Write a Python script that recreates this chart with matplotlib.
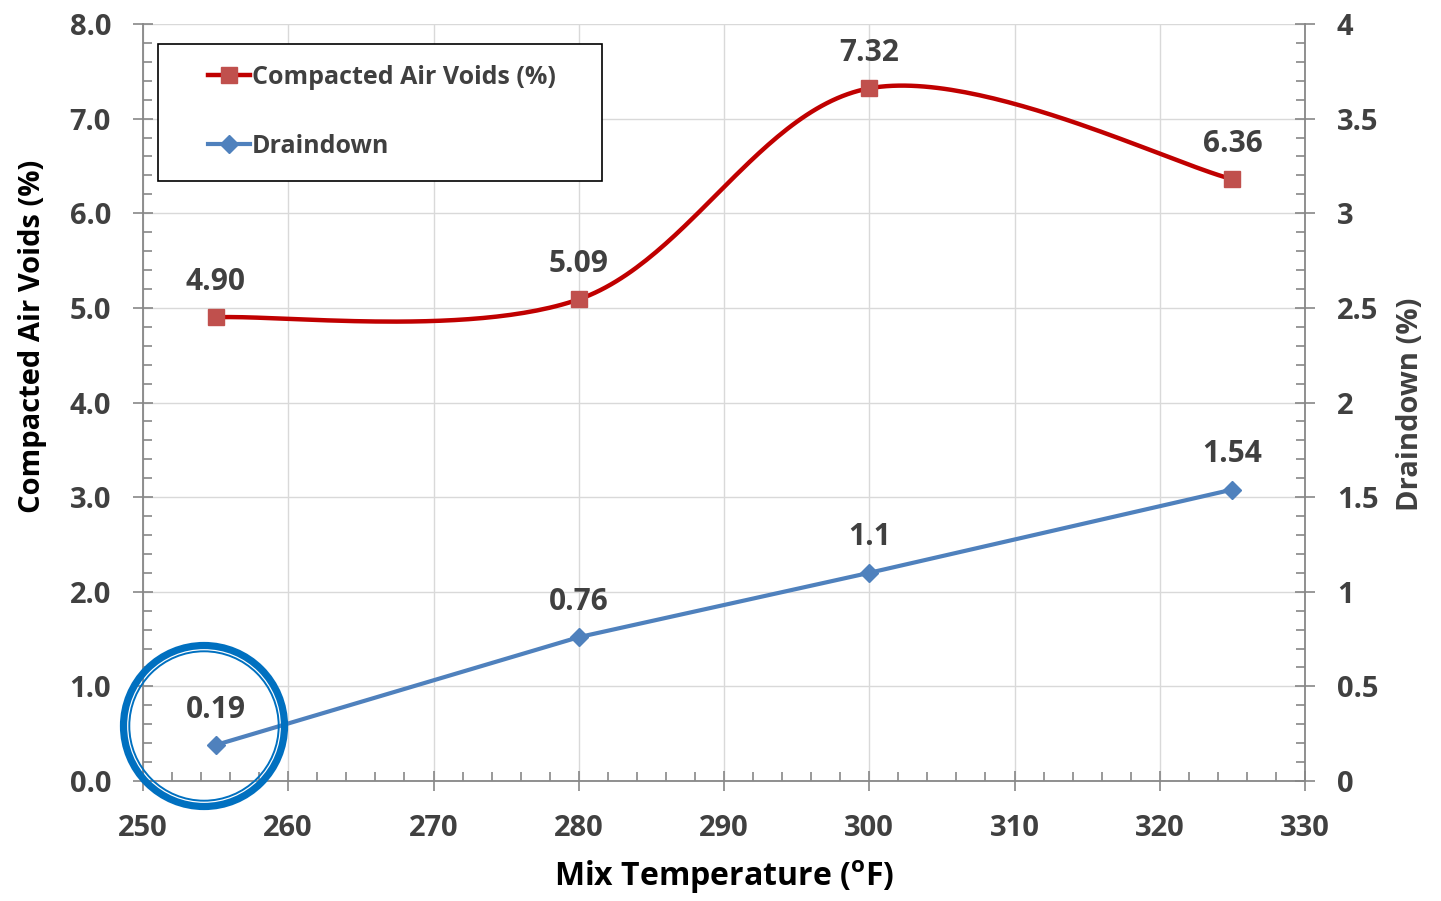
import numpy as np
import matplotlib
matplotlib.use("Agg")
import matplotlib.pyplot as plt
from matplotlib.ticker import MultipleLocator, FormatStrFormatter
from matplotlib.patches import Ellipse, Rectangle
from matplotlib.lines import Line2D

plt.rcParams["font.family"] = ["Open Sans", "DejaVu Sans"]
plt.rcParams["font.weight"] = "bold"
plt.rcParams["mathtext.fontset"] = "custom"
plt.rcParams["mathtext.rm"] = "Open Sans:bold"
plt.rcParams["mathtext.bf"] = "Open Sans:bold"

# data
mix_temp = [255, 280, 300, 325]
air_voids = [4.90, 5.09, 7.32, 6.36]
air_voids_labels = ["4.90", "5.09", "7.32", "6.36"]
draindown = [0.19, 0.76, 1.1, 1.54]
draindown_labels = ["0.19", "0.76", "1.1", "1.54"]

TXT = "#404040"
AXC = "#878787"
RED_LINE = "#C00000"
RED_MK = "#C0504D"
BLUE = "#4F81BD"
CIRCLE = "#0070C0"


def smooth(xs, ys, n=60):
    """Excel-like smoothed line (Catmull-Rom as cubic Bezier)."""
    p = np.column_stack([xs, ys]).astype(float)
    p_ext = np.vstack([p[0], p, p[-1]])
    out = []
    t = np.linspace(0, 1, n)[:, None]
    for i in range(len(p) - 1):
        p0, p1 = p_ext[i + 1], p_ext[i + 2]
        c1 = p0 + (p_ext[i + 2] - p_ext[i]) / 6
        c2 = p1 - (p_ext[i + 3] - p_ext[i + 1]) / 6
        seg = ((1 - t) ** 3) * p0 + 3 * ((1 - t) ** 2) * t * c1 + 3 * (1 - t) * t ** 2 * c2 + t ** 3 * p1
        out.append(seg if i == 0 else seg[1:])
    out = np.vstack(out)
    return out[:, 0], out[:, 1]


fig = plt.figure(figsize=(14.41, 9.01), dpi=100)
ax = fig.add_axes([143 / 1441, 120 / 901, 1162 / 1441, 757 / 901])
ax2 = ax.twinx()

# red smoothed series on left axis
sx, sy = smooth(mix_temp, air_voids)
ax.plot(sx, sy, color=RED_LINE, lw=3.2, zorder=3, solid_capstyle="round")
ax.plot(mix_temp, air_voids, ls="none", marker="s", ms=11.5, color=RED_MK, zorder=4)
for x, y, s in zip(mix_temp, air_voids, air_voids_labels):
    ax.annotate(s, (x, y), xytext=(0, 25.5), textcoords="offset points",
                ha="center", va="center", fontsize=21.5, color=TXT, fontweight="bold")

# blue series on right axis
ax2.plot(mix_temp, draindown, color=BLUE, lw=3.0, marker="D", ms=9, zorder=3)
for x, y, s in zip(mix_temp, draindown, draindown_labels):
    ax2.annotate(s, (x, y), xytext=(0, 25.5), textcoords="offset points",
                 ha="center", va="center", fontsize=21.5, color=TXT, fontweight="bold")

ax.set_xlim(250, 330)
ax.set_ylim(0, 8)
ax2.set_ylim(0, 4)

ax.xaxis.set_major_locator(MultipleLocator(10))
ax.xaxis.set_minor_locator(MultipleLocator(2))
ax.yaxis.set_major_locator(MultipleLocator(1))
ax.yaxis.set_minor_locator(MultipleLocator(0.2))
ax.yaxis.set_major_formatter(FormatStrFormatter("%.1f"))
ax2.yaxis.set_major_locator(MultipleLocator(0.5))
ax2.yaxis.set_minor_locator(MultipleLocator(0.1))
ax2.yaxis.set_major_formatter(lambda v, pos: f"{v:g}")

ax.grid(True, which="major", color="#D9D9D9", lw=1)
ax.set_axisbelow(True)

for a in (ax, ax2):
    a.spines["top"].set_visible(False)
    for side in ("left", "right", "bottom"):
        a.spines[side].set_color(AXC)
        a.spines[side].set_linewidth(1.3)
    a.tick_params(which="major", direction="inout", length=14, width=1.2, color=AXC,
                  labelsize=21, labelcolor=TXT)
    a.tick_params(which="minor", direction="in", length=6.5, width=1.2, color=AXC)
ax.tick_params(axis="y", pad=16)
ax.tick_params(axis="x", pad=17)
ax2.tick_params(axis="y", pad=16)
ax.spines["right"].set_visible(False)
ax2.spines["left"].set_visible(False)
ax2.spines["bottom"].set_visible(False)

fig.text(0.5025, (901 - 877) / 901, r"Mix Temperature ($^{\mathrm{o}}$F)", ha="center", va="center",
         fontsize=23, color="black", fontweight="bold")
fig.text(33 / 1441, (901 - 336) / 901, "Compacted Air Voids (%)", rotation=90, ha="center",
         va="center", fontsize=21, color="black", fontweight="bold")
fig.text(1410 / 1441, (901 - 404) / 901, "Draindown (%)", rotation=90, ha="center",
         va="center", fontsize=21, color=TXT, fontweight="bold")

# legend box
x0, y0 = (158 - 143) / 1162, (781 - 181) / 757
w, h = (602 - 158) / 1162, (181 - 44) / 757
ax2.add_patch(Rectangle((x0, y0), w, h, transform=ax2.transAxes, facecolor="white",
                        edgecolor="black", lw=1.2, zorder=6, clip_on=False))
handles = [
    Line2D([], [], color=RED_LINE, lw=3.2, marker="s", ms=11.5, mfc=RED_MK, mec=RED_MK),
    Line2D([], [], color=BLUE, lw=3.0, marker="D", ms=9),
]
leg = ax2.legend(handles, ["Compacted Air Voids (%)", "Draindown"], loc="center left",
                 bbox_to_anchor=(x0 + 0.0325, y0 + h / 2 + 0.001), frameon=False,
                 handlelength=1.65, handletextpad=0.1, labelspacing=1.75, borderpad=0,
                 prop={"weight": "bold", "size": 18})
for t in leg.get_texts():
    t.set_color(TXT)
leg.set_zorder(7)

# highlight circle around first draindown point
cx, cy = 204 / 1441, (901 - 726) / 901
fig.add_artist(Ellipse((cx, cy), 2 * 80.5 / 1441, 2 * 80.5 / 901, transform=fig.transFigure,
                       fill=False, edgecolor=CIRCLE, lw=5.2))
fig.add_artist(Ellipse((cx, cy), 2 * 74.7 / 1441, 2 * 74.7 / 901, transform=fig.transFigure,
                       fill=False, edgecolor=CIRCLE, lw=1.4))

fig.savefig("out.png", dpi=100)
